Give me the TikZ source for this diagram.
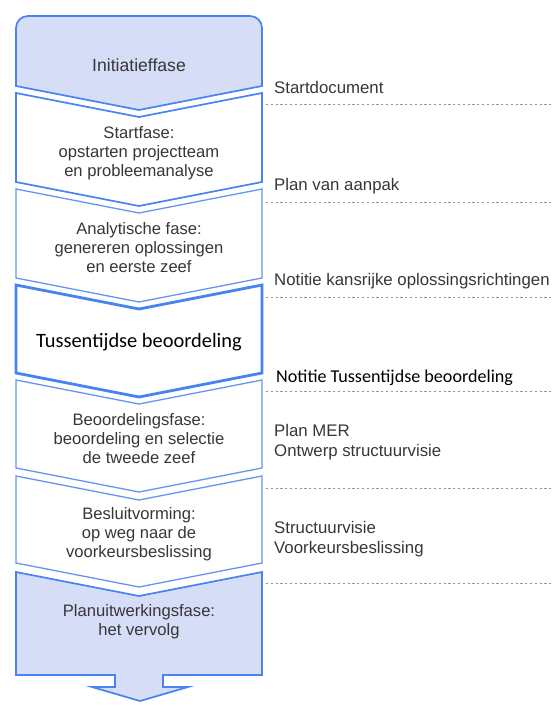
\documentclass[tikz,border=0pt]{standalone}
\usepackage{fontspec}
\setmainfont{Liberation Sans}
\newfontfamily\calibri{Carlito}
\definecolor{fillblue}{RGB}{214,221,247}
\definecolor{edgeblue}{RGB}{72,132,240}
\definecolor{edgelight}{RGB}{100,150,240}
\definecolor{txtgray}{RGB}{55,55,55}
\definecolor{dashgray}{RGB}{150,150,150}
\newcommand{\chevpath}[2]{(16,#1) -- (139,#1+24) -- (262,#1) -- (262,#2) -- (139,#2+24) -- (16,#2) -- cycle}
\begin{document}
\begin{tikzpicture}[x=1bp,y=-1bp,
  phase/.style={draw=edgeblue, line width=1.7bp, line join=miter},
  phaselight/.style={draw=edgelight, line width=1.3bp, line join=miter},
  phasethick/.style={draw=edgeblue, line width=2.8bp, line join=miter},
  shapetext/.style={font=\fontsize{16.6bp}{19bp}\selectfont, text=txtgray, align=center, inner sep=0pt},
  rightlabel/.style={font=\fontsize{16.8bp}{19.5bp}\selectfont, text=txtgray, anchor=base west, align=left, inner sep=0pt},
  divider/.style={draw=dashgray, line width=1bp, dash pattern=on 2.2bp off 2.6bp}]
\useasboundingbox (0,0) rectangle (554,715);
\fill[white] (0,0) rectangle (554,715);

% phase shapes
\draw[phase, fill=fillblue] (16,86) -- (16,28) arc[start angle=180, end angle=270, radius=12]
  -- (250,16) arc[start angle=270, end angle=360, radius=12] -- (262,86) -- (139,110) -- cycle;
\draw[phase, fill=white] \chevpath{93}{182};
\draw[phaselight, fill=white] \chevpath{189}{278};
\draw[phasethick, fill=white] \chevpath{285}{373};
\draw[phaselight, fill=white] \chevpath{380}{468};
\draw[phaselight, fill=white] \chevpath{476}{563};
\draw[phase, fill=fillblue] (16,572) -- (139,596) -- (262,572) -- (262,675) -- (163,675) -- (163,687)
  -- (188,687) -- (140,701) -- (92,687) -- (115,687) -- (115,675) -- (16,675) -- cycle;

% phase texts
\node[shapetext, font=\fontsize{17.6bp}{19bp}\selectfont] (init) at (139,65) {Initiatieffase};
\node[shapetext] (start) at (139,153) {Startfase:\\opstarten projectteam\\en probleemanalyse};
\node[shapetext] (analyt) at (139,248) {Analytische fase:\\genereren oplossingen\\en eerste zeef};
\node[inner sep=0pt, font=\calibri\fontsize{20.4bp}{24bp}\selectfont, text=black] (tussen) at (139,342) {Tussentijdse beoordeling};
\node[shapetext] (beoord) at (139,439) {Beoordelingsfase:\\beoordeling en selectie\\de tweede zeef};
\node[shapetext] (besluit) at (139,534) {Besluitvorming:\\op weg naar de\\voorkeursbeslissing};
\node[shapetext] (planuit) at (139,622) {Planuitwerkingsfase:\\het vervolg};

% divider lines
\foreach \n/\yy in {d1/105, d2/202, d3/297, d4/391, d5/488, d6/583} {
  \coordinate (\n a) at (266,\yy);
  \coordinate (\n b) at (554,\yy);
  \draw[divider] (\n a) -- (\n b);
}

% right labels
\node[rightlabel] (l1) at (274,94) {Startdocument};
\node[rightlabel] (l2) at (274,190) {Plan van aanpak};
\node[rightlabel] (l3) at (274,285) {Notitie kansrijke oplossingsrichtingen};
\node[rightlabel, font=\calibri\fontsize{18.1bp}{21bp}\selectfont, text=black] (l4) at (276,382) {Notitie Tussentijdse beoordeling};
\node[rightlabel] (l5) at (274,456) {Plan MER\\Ontwerp structuurvisie};
\node[rightlabel] (l6) at (274,553) {Structuurvisie\\Voorkeursbeslissing};
\end{tikzpicture}
\end{document}
